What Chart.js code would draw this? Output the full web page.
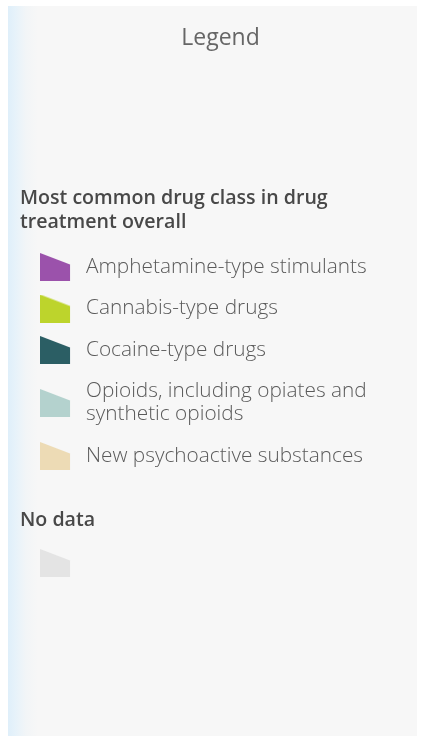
<!DOCTYPE html>
<html>
<head>
<meta charset="utf-8">
<script src="https://cdn.jsdelivr.net/npm/chart.js@4.4.1/dist/chart.umd.min.js"></script>
<style>
  html, body { margin: 0; padding: 0; background: #ffffff; }
  body { width: 421px; height: 736px; position: relative; overflow: hidden; }
  #panel {
    position: absolute; left: 8px; top: 6px; width: 409px; height: 730px;
    background: linear-gradient(to right, #dfeffa 0px, #e6f2fa 7px, #f2f5f7 18px, #f7f7f7 30px);
  }
  canvas { position: absolute; left: 0; }
  #main { top: 0; }
  #nodata { top: 500px; }
</style>
</head>
<body>
<div id="panel"></div>
<canvas id="main" width="421" height="500"></canvas>
<canvas id="nodata" width="421" height="130"></canvas>
<script>
// legend content
const legendTitle = 'Legend';
const groupTitle = ['Most common drug class in drug', 'treatment overall'];
const categories = [
  'Amphetamine-type stimulants',
  'Cannabis-type drugs',
  'Cocaine-type drugs',
  ['Opioids, including opiates and', 'synthetic opioids'],
  'New psychoactive substances'
];
const categoryColors = ['#9b52ab', '#bdd42c', '#2b5e64', '#b4d2ce', '#eddbb5'];
const noDataTitle = 'No data';
const noDataLabels = [''];
const noDataColors = ['#e4e4e4'];

const FONT = "'Open Sans', 'Noto Sans', sans-serif";
const LINE_H = 23;
const TEXT_COLOR = '#5a5a5a';

// the slanted swatch used by the map legend; multi-line items get the shape centred on the text block
function swatch(color, lines) {
  const c = document.createElement('canvas');
  const extra = (lines - 1) * LINE_H;
  c.width = 34;
  c.height = 28 + extra;
  const g = c.getContext('2d');
  g.fillStyle = color;
  g.beginPath();
  g.moveTo(0, extra);
  g.lineTo(30, extra + 11.5);
  g.lineTo(30, extra + 28);
  g.lineTo(0, extra + 28);
  g.closePath();
  g.fill();
  return c;
}

function legendOptions() {
  return {
    position: 'left',
    align: 'start',
    fullSize: false,
    maxWidth: 400,
    labels: {
      usePointStyle: true,
      pointStyleWidth: 37.1,
      padding: 18.5,
      color: TEXT_COLOR,
      font: { family: FONT, size: 20.8, weight: '300', lineHeight: LINE_H + 'px' },
      generateLabels(chart) {
        return chart.data.datasets.map((ds, i) => {
          const lines = [].concat(ds.label);
          return {
            text: lines,
            fillStyle: ds.backgroundColor,
            strokeStyle: ds.backgroundColor,
            lineWidth: 0,
            pointStyle: swatch(ds.backgroundColor, lines.length),
            hidden: false,
            fontColor: TEXT_COLOR,
            textAlign: 'left',
            datasetIndex: i
          };
        });
      }
    },
    onClick: () => {}
  };
}

function makeDatasets(labels, colors) {
  return labels.map((label, i) => ({
    label: label,
    data: [],
    backgroundColor: colors[i]
  }));
}

const hiddenScales = {
  x: { display: false },
  y: { display: false }
};

new Chart(document.getElementById('main'), {
  type: 'bar',
  data: { labels: [], datasets: makeDatasets(categories, categoryColors) },
  options: {
    responsive: false,
    animation: false,
    layout: { padding: { left: 20, top: 0, right: 0, bottom: 0 } },
    scales: hiddenScales,
    plugins: {
      title: {
        display: true,
        text: legendTitle,
        align: 'center',
        color: '#666666',
        font: { family: FONT, size: 23, weight: 'normal', lineHeight: 1.2 },
        padding: { top: 24.2, bottom: 0 }
      },
      subtitle: {
        display: true,
        text: groupTitle,
        align: 'start',
        color: '#484848',
        font: { family: FONT, size: 19.6, weight: '600', lineHeight: '24px' },
        padding: { top: 134.2, bottom: 4.1 }
      },
      legend: legendOptions(),
      tooltip: { enabled: false }
    }
  }
});

new Chart(document.getElementById('nodata'), {
  type: 'bar',
  data: { labels: [], datasets: makeDatasets(noDataLabels, noDataColors) },
  options: {
    responsive: false,
    animation: false,
    layout: { padding: { left: 20, top: 0, right: 0, bottom: 0 } },
    scales: hiddenScales,
    plugins: {
      title: {
        display: true,
        text: noDataTitle,
        align: 'start',
        color: '#484848',
        font: { family: FONT, size: 19.6, weight: '600', lineHeight: '24px' },
        padding: { top: 8, bottom: 2.1 }
      },
      legend: legendOptions(),
      tooltip: { enabled: false }
    }
  }
});
</script>
</body>
</html>
